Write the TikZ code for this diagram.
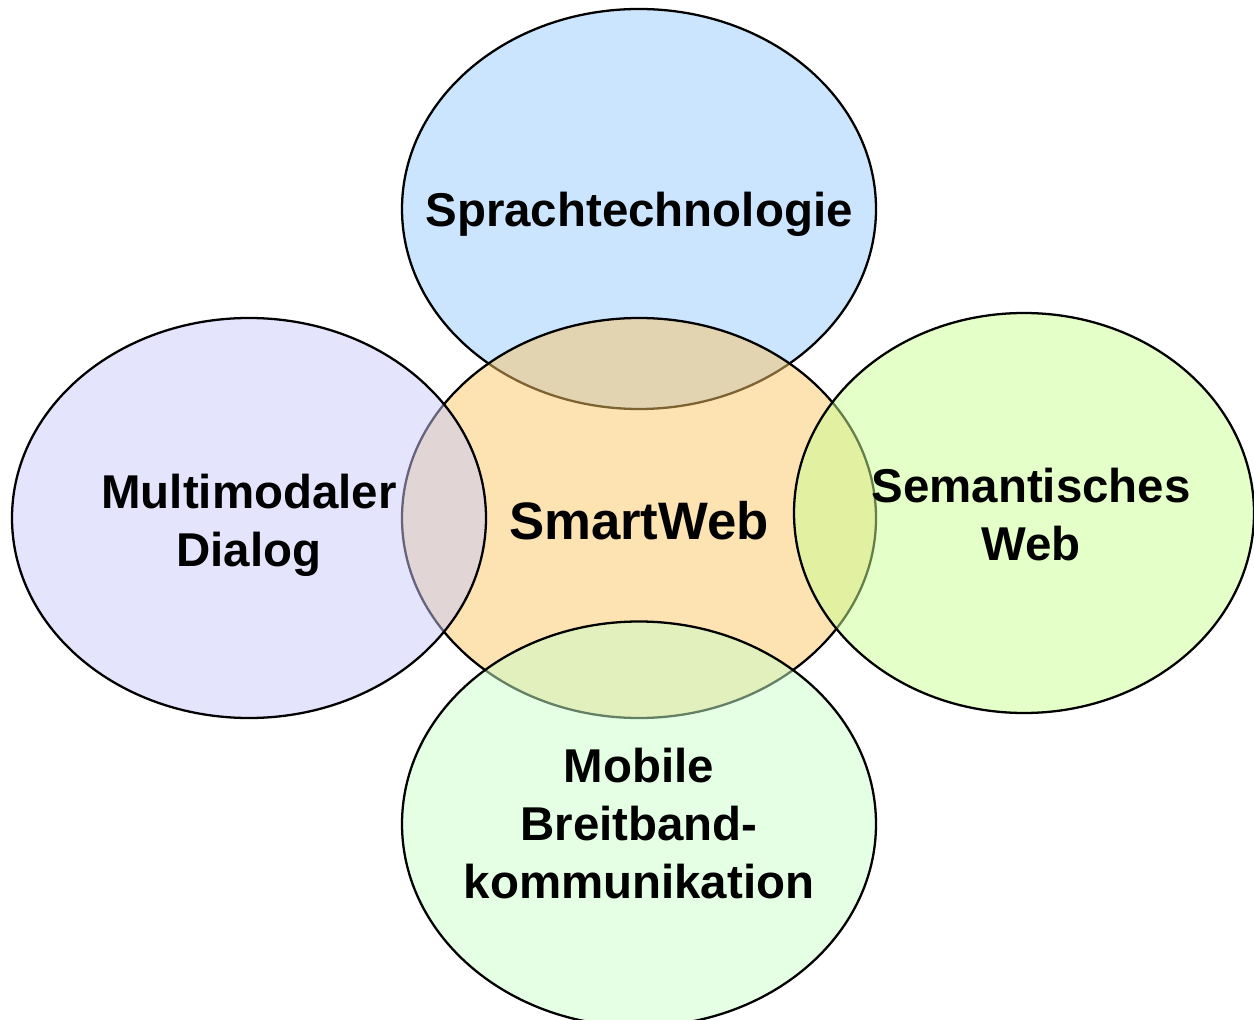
\documentclass[tikz,border=0pt]{standalone}
\usepackage{fontspec}
\setmainfont{Liberation Sans}
\usepackage{xcolor}
\usepackage{tikz}
\usetikzlibrary{shapes.geometric, positioning}
\definecolor{sprachcolor}{RGB}{204, 229, 255}
\definecolor{smartcolor}{RGB}{251, 197, 101}
\definecolor{dialogcolor}{RGB}{201, 201, 251}
\definecolor{semcolor}{RGB}{201, 255, 145}
\definecolor{mobilcolor}{RGB}{201, 255, 201}

\begin{document}
\begin{tikzpicture}[
    bubble/.style={draw, ellipse, line width=0.65pt, inner sep=0pt, minimum width=4.74cm, minimum height=4cm},
    seethrough/.style={fill opacity=0.5},
    label/.style={font=\fontsize{13.5}{16.5}\selectfont\bfseries, align=center, inner sep=0pt}
]
    \useasboundingbox (0, 0) rectangle (12.54, 10.19);

    % Bubbles
    \node[bubble, fill=sprachcolor] (sprache) at (6.39, 8.10) {};
    \node[bubble, fill=smartcolor, seethrough] (smartweb) at (6.39, 5.01) {};
    \node[bubble, fill=dialogcolor, seethrough] (dialog) at (2.49, 5.01) {};
    \node[bubble, fill=semcolor, seethrough, minimum width=4.6cm] (semweb) at (10.24, 5.06) {};
    \node[bubble, fill=mobilcolor, seethrough, minimum height=4.05cm] (mobil) at (6.39, 1.95) {};

    % Labels
    \node[label] (sprachetext) at (6.39, 8.05) {Sprachtechnologie};
    \node[label, font=\fontsize{15}{18}\selectfont\bfseries] (smarttext) at (6.39, 4.98) {SmartWeb};
    \node[label] (dialogtext) at (2.49, 4.94) {Multimodaler\\Dialog};
    \node[label] (semtext) at (10.31, 5.04) {Semantisches\\Web};
    \node[label] (mobiltext) at (6.39, 1.95) {Mobile\\Breitband-\\kommunikation};

\end{tikzpicture}
\end{document}
